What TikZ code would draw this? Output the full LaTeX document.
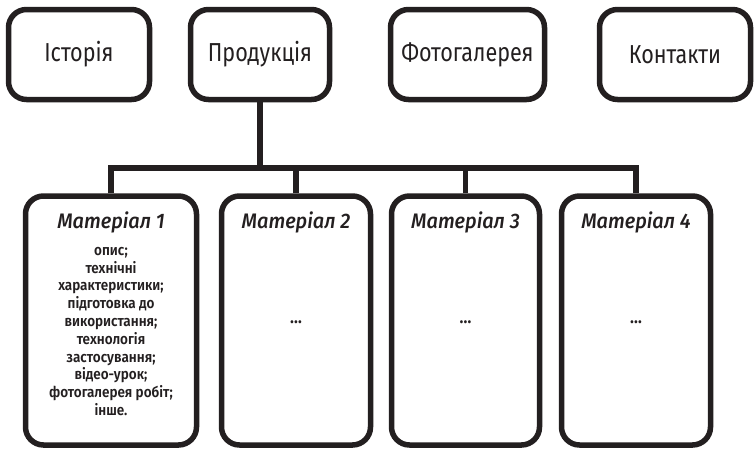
\documentclass[tikz,border=0pt]{standalone}
\usepackage{fontspec}
\setmainfont{Fira Sans}[FakeStretch=0.88]
\newfontfamily\toplabelfont{Fira Sans}[FakeStretch=0.83]
\newfontfamily\medfont{Fira Sans SemiBold}[FakeStretch=0.9]
\newfontfamily\medital{Fira Sans Medium Italic}[FakeStretch=0.95]
\newcommand\tightlines{\lineskiplimit=-30pt\relax\lineskip=0pt\relax}
\definecolor{ink}{HTML}{231F20}
\tikzset{
  topbox/.style={draw=ink, line width=5.5pt, rounded corners=18pt, minimum height=90pt, inner sep=0pt, font=\toplabelfont\fontsize{26}{30}\selectfont, text=ink},
  matbox/.style={draw=ink, line width=5.5pt, rounded corners=18pt, minimum height=249pt, inner sep=0pt},
  mattitle/.style={font=\medital\fontsize{21}{24}\selectfont, text=ink, inner sep=0pt},
  matbody/.style={font={\medfont\fontsize{15}{17.8}\selectfont\tightlines}, text=ink, align=center, inner sep=0pt},
  dotsl/.style={font=\medfont\fontsize{18}{20}\selectfont, text=ink, inner sep=0pt},
  link/.style={draw=ink, line width=5.5pt}
}
\begin{document}
\begin{tikzpicture}[x=1pt,y=-1pt]
\useasboundingbox (0,0) rectangle (754,448);
\node[topbox, minimum width=141pt] (ist) at (79,54.5) {Історія};
\node[topbox, minimum width=139pt] (prod) at (260,54.5) {Продукція};
\node[topbox, minimum width=154pt] (foto) at (467.5,54.5) {Фотогалерея};
\node[topbox, minimum width=151pt] (kont) at (675,54.5) {Контакти};

\node[matbox, minimum width=171pt] (m1) at (111,320.5) {};
\node[matbox, minimum width=149pt] (m2) at (296,320.5) {};
\node[matbox, minimum width=148pt] (m3) at (465.5,320.5) {};
\node[matbox, minimum width=149pt] (m4) at (636,320.5) {};

\node[mattitle] (t1) at (111,222) {Матеріал 1};
\node[mattitle] (t2) at (296,222) {Матеріал 2};
\node[mattitle] (t3) at (465.5,222) {Матеріал 3};
\node[mattitle] (t4) at (636,222) {Матеріал 4};

\node[matbody] (b1) at (111,331.5) {опис;\\технічні\\характеристики;\\підготовка до\\використання;\\технологія\\застосування;\\відео-урок;\\фотогалерея робіт;\\інше.};
\node[dotsl] (b2) at (296,322) {…};
\node[dotsl] (b3) at (465.5,322) {…};
\node[dotsl] (b4) at (636,322) {…};

\coordinate (bar) at (0,168);
\draw[link] (prod.south) -- (prod.south |- bar);
\draw[link] (m1.north) -- (m1.north |- bar) -- (m4.north |- bar) -- (m4.north);
\draw[link] (m2.north) -- (m2.north |- bar);
\draw[link] (m3.north) -- (m3.north |- bar);
\end{tikzpicture}
\end{document}
